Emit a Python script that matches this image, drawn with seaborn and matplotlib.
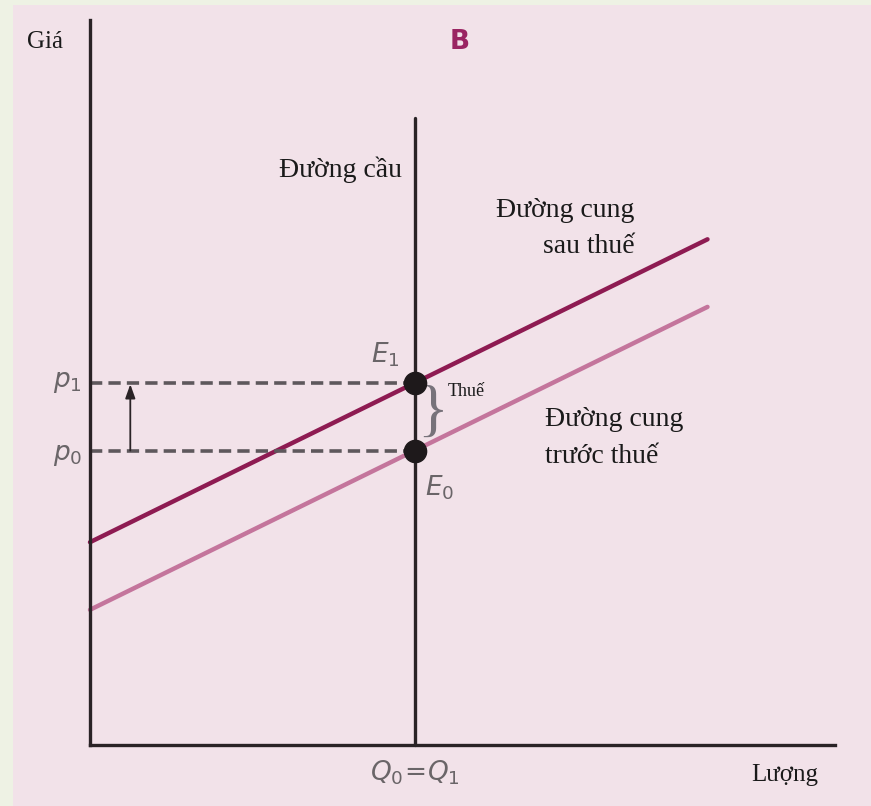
import numpy as np
import pandas as pd
import matplotlib
matplotlib.use('Agg')
import matplotlib.pyplot as plt
import seaborn as sns

# data (abstract units: quantity / price)
q = [0, 9.5]
supply_before = [2.08, 6.74]
tax = 1.04
supply_after = [v + tax for v in supply_before]
Q0 = 5
p0 = 4.53
p1 = p0 + tax
demand_top = 9.65

sns.set_theme(style='white')
plt.rcParams['font.family'] = ['Liberation Serif', 'DejaVu Serif']
plt.rcParams['mathtext.fontset'] = 'dejavusans'

pink = '#f2e2e9'
dark = '#8e1b52'
light = '#c4759c'
gray = '#5e585c'

fig = plt.figure(figsize=(8.71, 8.06), dpi=100, facecolor='#eef2e4')
bg = fig.add_axes([13/871, 0, 1 - 13/871, 1 - 5/806], zorder=-5)
bg.set_facecolor(pink)
bg.set_axis_off()
bg.add_artist(plt.Rectangle((0, 0), 1, 1, transform=bg.transAxes, color=pink))

ax = fig.add_axes([0, 0, 1, 1])
ax.set_facecolor('none')
ax.set_xlim(-90/65, 781/65)
ax.set_ylim(-61/65, 745/65)

df = pd.DataFrame({'Lượng': q + q,
                   'Giá': supply_before + supply_after,
                   'đường': ['trước'] * 2 + ['sau'] * 2})
sns.lineplot(data=df, x='Lượng', y='Giá', hue='đường',
             palette={'trước': light, 'sau': dark}, lw=3.2, legend=False, ax=ax)

# demand (vertical)
ax.plot([Q0, Q0], [0, demand_top], color='#2a2326', lw=2.4)

# dashed price lines
for p in (p0, p1):
    ax.plot([0, Q0], [p, p], color=gray, lw=2.6, ls=(0, (3.4, 1.7)))

# equilibrium points
ax.plot([Q0, Q0], [p0, p1], 'o', color='#1e191b', ms=16, ls='none', zorder=5)

# arrow p0 -> p1
ax.annotate('', xy=(0.62, p1 - 0.02), xytext=(0.62, p0),
            arrowprops=dict(arrowstyle='-|>,head_width=0.25,head_length=0.7',
                            color='#2a2326', lw=1.3, shrinkA=0, shrinkB=0))

# axes spines as chart axes
for s in ('top', 'right'):
    ax.spines[s].set_visible(False)
ax.spines['left'].set_position(('data', 0))
ax.spines['bottom'].set_position(('data', 0))
ax.spines['left'].set_bounds(0, 11.15)
ax.spines['bottom'].set_bounds(0, 11.46)
for s in ('left', 'bottom'):
    ax.spines[s].set_color('#2a2326')
    ax.spines[s].set_linewidth(2.4)
ax.set_xticks([])
ax.set_yticks([])
ax.set_xlabel('')
ax.set_ylabel('')

# texts
ax.text(-0.69, 10.82, 'Giá', fontsize=18, ha='center', va='center', color='#1a1a1a')
ax.text(10.69, -0.46, 'Lượng', fontsize=18, ha='center', va='center', color='#1a1a1a')
ax.text(5.69, 10.82, 'B', fontsize=19, fontweight='bold', family='DejaVu Sans',
        ha='center', va='center', color='#9a2462')
ax.text(3.85, 8.85, 'Đường cầu', fontsize=20, ha='center', va='center', color='#1a1a1a')
ax.text(8.38, 7.95, 'Đường cung\nsau thuế', fontsize=20, ha='right', va='center',
        multialignment='right', linespacing=1.6, color='#1a1a1a')
ax.text(7.0, 4.72, 'Đường cung\ntrước thuế', fontsize=20, ha='left', va='center',
        linespacing=1.6, color='#1a1a1a')
ax.text(5.51, 5.44, 'Thuế', fontsize=13, ha='left', va='center', color='#1a1a1a')
ax.text(5.27, 5.08, '}', fontsize=46, ha='center', va='center', color='#77727a',
        family='Liberation Serif')

sans_gray = dict(fontsize=19, ha='center', va='center', color='#6a6568')
ax.text(-0.35, 5.57, r'$p_1$', **sans_gray)
ax.text(-0.35, 4.46, r'$p_0$', **sans_gray)
ax.text(4.54, 6.0, r'$E_1$', **sans_gray)
ax.text(5.38, 3.95, r'$E_0$', **sans_gray)
ax.text(5.0, -0.42, r'$Q_0\!=\!Q_1$', **sans_gray)

fig.savefig('out.png', dpi=100, facecolor=fig.get_facecolor())
